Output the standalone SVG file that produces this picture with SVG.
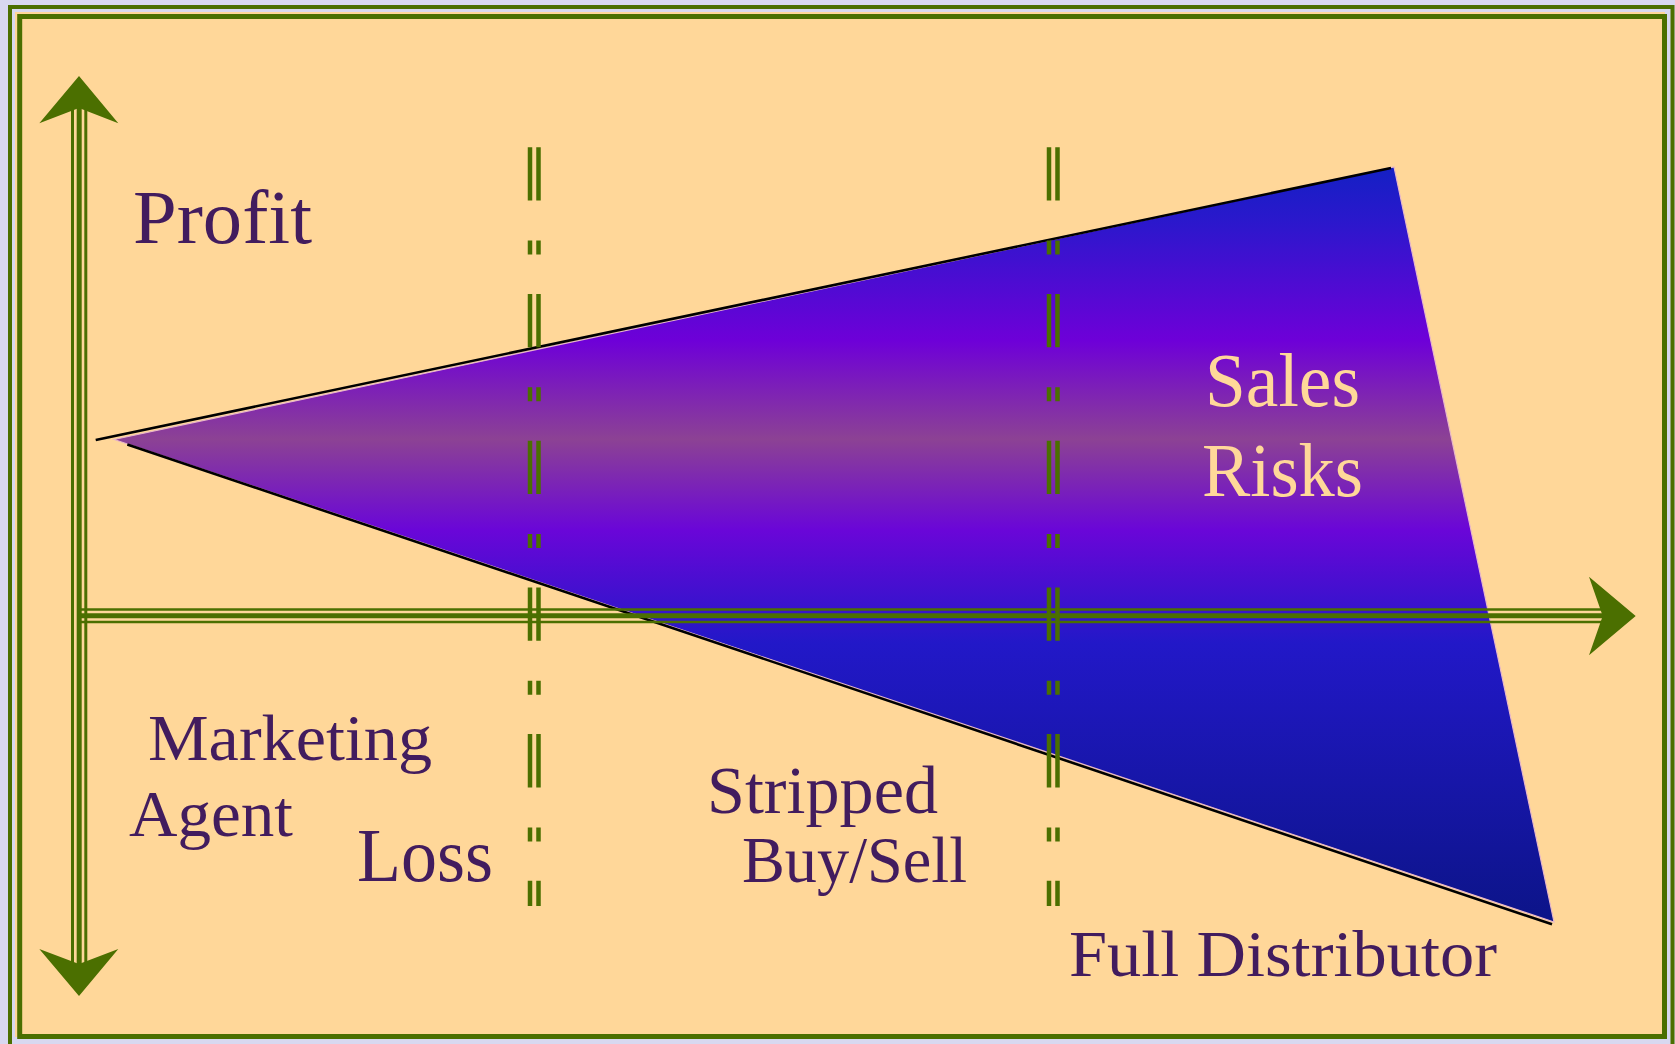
<svg xmlns="http://www.w3.org/2000/svg" width="1675" height="1044" viewBox="0 0 1675 1044">
  <defs>
    <linearGradient id="wedge" gradientUnits="userSpaceOnUse" x1="0" y1="167" x2="0" y2="923">
      <stop offset="0" stop-color="#1420C4"/>
      <stop offset="0.07" stop-color="#2A18CC"/>
      <stop offset="0.23" stop-color="#6E00D8"/>
      <stop offset="0.36" stop-color="#8C4294"/>
      <stop offset="0.48" stop-color="#6A06D8"/>
      <stop offset="0.63" stop-color="#2218C8"/>
      <stop offset="1" stop-color="#0C1488"/>
    </linearGradient>
    <style>
      .g { stroke: #4B6F00; fill: none; }
      .gf { fill: #4B6F00; stroke: none; }
      .dash { stroke: #4B6F00; stroke-width: 4.5; fill: none; stroke-dasharray: 53.3 40 14 39.4; }
      .lbl { font-family: "Liberation Serif", "Times New Roman", serif; fill: #421C5E; }
      .lt { font-family: "Liberation Serif", "Times New Roman", serif; fill: #FFD899; }
    </style>
  </defs>

  <g id="frame">
    <rect x="0" y="0" width="1675" height="1044" fill="#D8D8F0"/>
    <rect x="10" y="7" width="1662.5" height="1060" fill="none" stroke="#4B6F00" stroke-width="4"/>
    <rect x="15" y="12" width="1650" height="1025" fill="#FFD799"/>
    <rect x="19.7" y="16.5" width="1644.8" height="1020" fill="none" stroke="#4B6F00" stroke-width="5"/>
  </g>

  <g id="wedge-shape">
    <polygon points="114,439.5 1394,167 1554,922" fill="url(#wedge)" stroke="#E8B8C8" stroke-width="1.2" stroke-linejoin="miter"/>
    <line x1="95.7" y1="440" x2="1391" y2="168" stroke="#000" stroke-width="2.6"/>
    <line x1="127.3" y1="444.5" x2="1552" y2="924.3" stroke="#000" stroke-width="2.6"/>
  </g>

  <g id="connectors">
    <g id="v-axis">
      <line class="g" x1="72.5" y1="108" x2="72.5" y2="964" stroke-width="3"/>
      <line class="g" x1="79.2" y1="108" x2="79.2" y2="964" stroke-width="5"/>
      <line class="g" x1="85.8" y1="108" x2="85.8" y2="964" stroke-width="3"/>
      <polygon class="gf" points="79,76 39.3,123.3 79,108 118.3,123.3"/>
      <polygon class="gf" points="79,996 39.3,949 79,964 118.3,949"/>
    </g>
    <g id="h-axis">
      <line class="g" x1="81" y1="609.5" x2="1603" y2="609.5" stroke-width="2.6"/>
      <line class="g" x1="81" y1="615.8" x2="1603" y2="615.8" stroke-width="5"/>
      <line class="g" x1="81" y1="622" x2="1603" y2="622" stroke-width="2.6"/>
      <polygon class="gf" points="1635.7,616 1589,576.7 1602.7,616 1589,655.3"/>
    </g>
    <g id="divider-1">
      <line class="dash" x1="530" y1="147.3" x2="530" y2="906"/>
      <line class="dash" x1="538.5" y1="147.3" x2="538.5" y2="906"/>
    </g>
    <g id="divider-2">
      <line class="dash" x1="1049" y1="147.3" x2="1049" y2="906"/>
      <line class="dash" x1="1057.5" y1="147.3" x2="1057.5" y2="906"/>
    </g>
  </g>

  <g id="label-profit"><text class="lbl" x="133" y="243" font-size="76" textLength="179" lengthAdjust="spacingAndGlyphs">Profit</text></g>
  <g id="label-sales-risks">
    <text class="lt" x="1205" y="406" font-size="76" textLength="155" lengthAdjust="spacingAndGlyphs">Sales</text>
    <text class="lt" x="1202" y="496" font-size="76" textLength="161" lengthAdjust="spacingAndGlyphs">Risks</text>
  </g>
  <g id="label-marketing-agent">
    <text class="lbl" x="148" y="760" font-size="66" textLength="284" lengthAdjust="spacingAndGlyphs">Marketing</text>
    <text class="lbl" x="129" y="836" font-size="66" textLength="164" lengthAdjust="spacingAndGlyphs">Agent</text>
  </g>
  <g id="label-loss"><text class="lbl" x="357" y="881" font-size="76" textLength="136" lengthAdjust="spacingAndGlyphs">Loss</text></g>
  <g id="label-stripped">
    <text class="lbl" x="707" y="813" font-size="68" textLength="231" lengthAdjust="spacingAndGlyphs">Stripped</text>
    <text class="lbl" x="742" y="882" font-size="66" textLength="225" lengthAdjust="spacingAndGlyphs">Buy/Sell</text>
  </g>
  <g id="label-full"><text class="lbl" x="1069" y="976" font-size="66" textLength="428" lengthAdjust="spacingAndGlyphs">Full Distributor</text></g>
</svg>
